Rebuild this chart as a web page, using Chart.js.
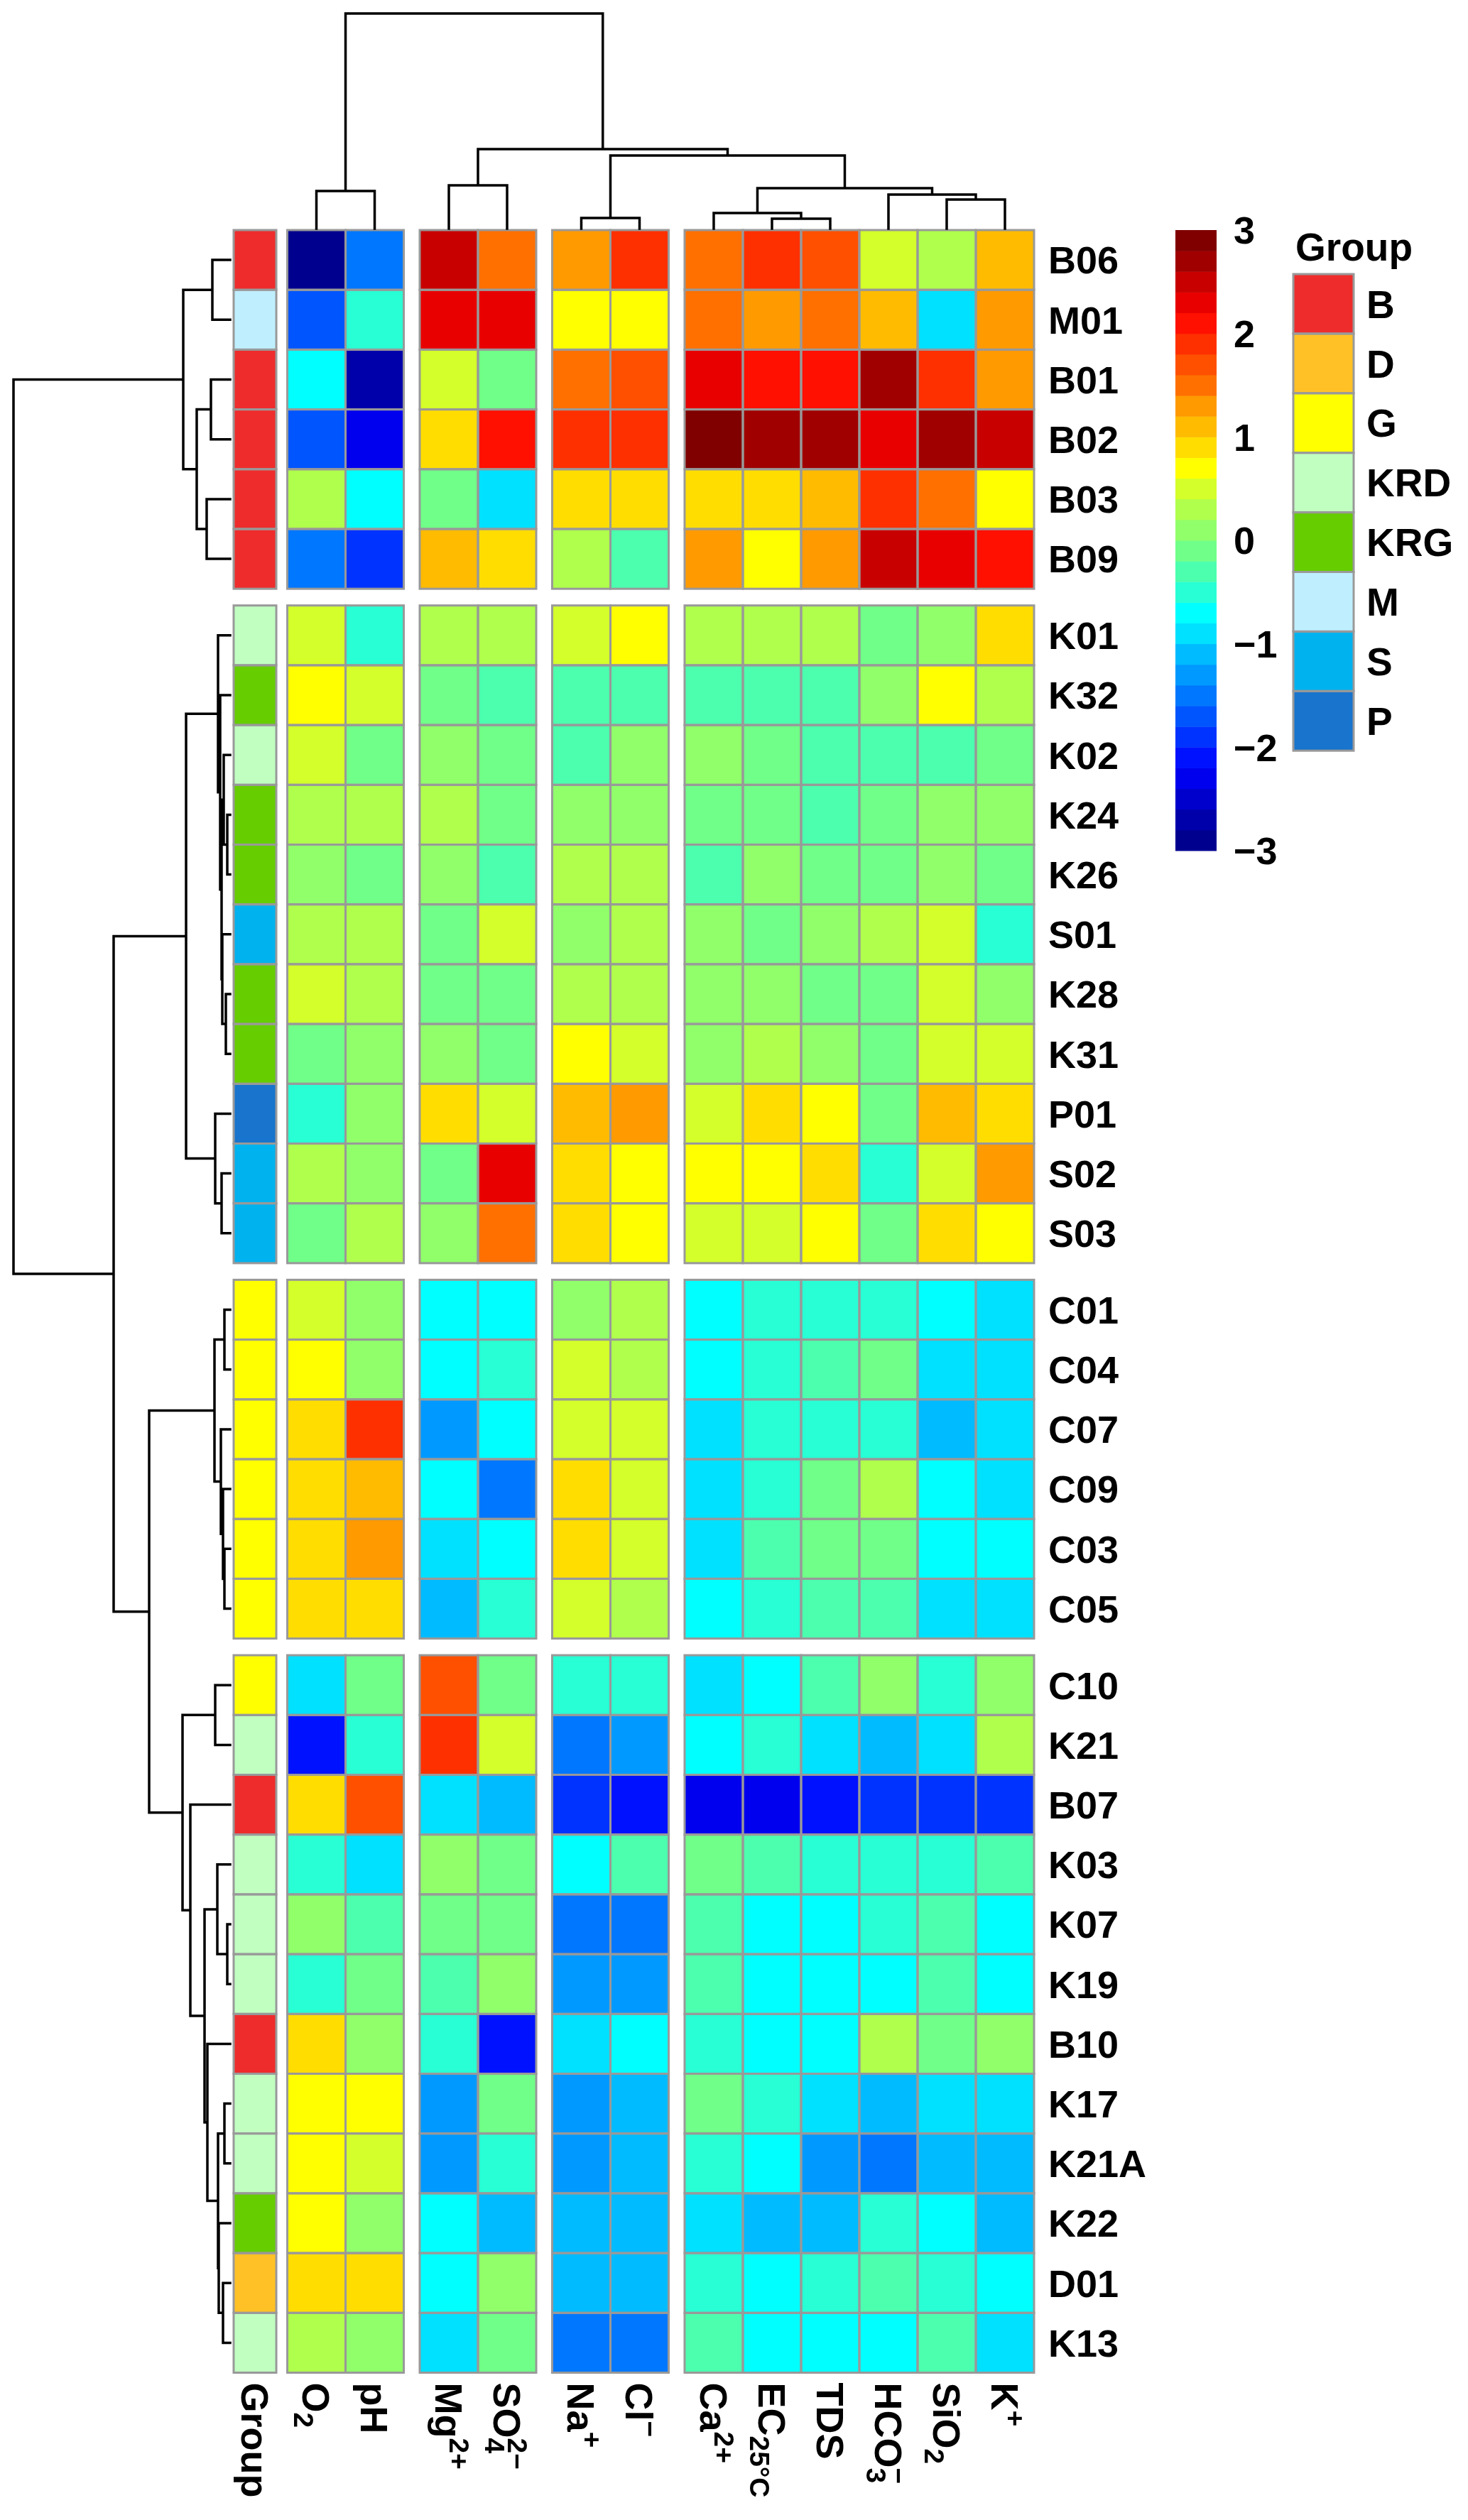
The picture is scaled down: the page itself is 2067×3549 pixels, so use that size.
<!DOCTYPE html>
<html>
<head>
<meta charset="utf-8">
<script src="https://cdn.jsdelivr.net/npm/chart.js@4.4.1/dist/chart.umd.min.js"></script>
<style>
html,body{margin:0;padding:0;background:#ffffff;}
#wrap{position:relative;width:2067px;height:3549px;overflow:hidden;}
#wrap canvas{position:absolute;left:0;top:0;width:2067px;height:3549px;}
</style>
</head>
<body>
<div id="wrap">
<canvas id="heat" width="2067" height="3549"></canvas>
<canvas id="dendTop" width="2067" height="3549"></canvas>
<canvas id="dendLeft" width="2067" height="3549"></canvas>
<canvas id="legend" width="2067" height="3549"></canvas>
</div>
<script>
// ---------------- DATA ----------------
const rowLabels = ['B06','M01','B01','B02','B03','B09','K01','K32','K02','K24','K26','S01','K28','K31','P01','S02','S03',
  'C01','C04','C07','C09','C03','C05','C10','K21','B07','K03','K07','K19','B10','K17','K21A','K22','D01','K13'];
const rowGroups = ['B','M','B','B','B','B','KRD','KRG','KRD','KRG','KRG','S','KRG','KRG','P','S','S',
  'G','G','G','G','G','G','G','KRD','B','KRD','KRD','KRD','B','KRD','KRD','KRG','D','KRD'];
const colKeys = ['O2','pH','Mg','SO4','Na','Cl','Ca','EC','TDS','HCO3','SiO2','K'];
const colLabels = ['O_{2}','pH','Mg^{2+}','SO_{4}^{2\u2212}','Na^{+}','Cl^{\u2212}','Ca^{2+}','EC_{25\u00B0C}','TDS','HCO_{3}^{\u2212}','SiO_{2}','K^{+}'];

const O2   = [-2.9,-1.7,-0.7,-1.7,0.3,-1.5, 0.5,0.7,0.5,0.3,0.1,0.3,0.5,-0.1,-0.5,0.3,-0.1, 0.5,0.7,0.9,0.9,0.9,0.9, -0.9,-2.1,0.9,-0.5,0.1,-0.5,0.9,0.7,0.7,0.7,0.9,0.3];
const pH   = [-1.5,-0.5,-2.7,-2.3,-0.7,-1.9, -0.5,0.5,-0.1,0.3,-0.1,0.3,0.3,0.1,0.1,0.1,0.3, 0.1,0.1,1.9,1.1,1.3,0.9, -0.1,-0.5,1.7,-0.9,-0.3,-0.1,0.1,0.7,0.5,0.1,0.9,0.1];
const Mg   = [2.5,2.3,0.5,0.9,-0.1,1.1, 0.3,-0.1,0.1,0.3,0.1,-0.1,-0.1,0.1,0.9,-0.1,0.1, -0.7,-0.7,-1.3,-0.7,-0.9,-1.1, 1.7,1.9,-0.9,0.1,-0.1,-0.3,-0.5,-1.3,-1.3,-0.7,-0.7,-0.9];
const SO4  = [1.5,2.3,-0.1,2.1,-0.9,0.9, 0.3,-0.3,-0.1,-0.1,-0.3,0.5,-0.1,-0.1,0.5,2.3,1.5, -0.7,-0.5,-0.7,-1.5,-0.7,-0.5, -0.1,0.5,-1.1,-0.1,-0.1,0.1,-2.1,-0.1,-0.5,-1.1,0.1,-0.1];
const Na   = [1.3,0.7,1.5,1.9,0.9,0.3, 0.5,-0.3,-0.3,0.1,0.3,0.1,0.3,0.7,1.1,0.9,0.9, 0.1,0.5,0.5,0.9,0.9,0.5, -0.5,-1.5,-1.9,-0.7,-1.5,-1.3,-0.9,-1.3,-1.3,-1.1,-1.1,-1.5];
const Cl   = [1.9,0.7,1.7,1.9,0.9,-0.3, 0.7,-0.3,0.1,0.1,0.3,0.3,0.3,0.5,1.3,0.7,0.7, 0.3,0.3,0.5,0.5,0.5,0.3, -0.5,-1.3,-2.1,-0.3,-1.5,-1.3,-0.7,-1.1,-1.1,-1.1,-1.1,-1.5];
const Ca   = [1.5,1.5,2.3,2.9,0.9,1.3, 0.3,-0.3,0.1,-0.1,-0.3,0.1,0.1,0.1,0.5,0.7,0.5, -0.7,-0.7,-0.9,-0.9,-0.9,-0.7, -0.9,-0.7,-2.3,-0.1,-0.3,-0.3,-0.5,-0.1,-0.5,-0.9,-0.5,-0.3];
const EC   = [1.9,1.3,2.1,2.7,0.9,0.7, 0.3,-0.3,-0.1,-0.1,0.1,-0.1,0.1,0.3,0.9,0.7,0.5, -0.5,-0.5,-0.5,-0.5,-0.3,-0.5, -0.7,-0.5,-2.3,-0.3,-0.7,-0.7,-0.7,-0.5,-0.7,-1.1,-0.7,-0.7];
const TDS  = [1.7,1.5,2.1,2.7,1.1,1.3, 0.3,-0.3,-0.3,-0.3,-0.1,0.1,-0.1,0.1,0.7,0.9,0.7, -0.5,-0.3,-0.5,-0.1,-0.1,-0.3, -0.3,-0.9,-2.1,-0.5,-0.7,-0.7,-0.7,-0.9,-1.3,-1.1,-0.5,-0.7];
const HCO3 = [0.5,1.1,2.7,2.3,1.9,2.5, -0.1,0.1,-0.3,-0.1,-0.1,0.3,-0.1,-0.1,-0.1,-0.5,-0.1, -0.5,-0.1,-0.5,0.3,-0.1,-0.3, 0.1,-1.1,-1.9,-0.5,-0.5,-0.7,0.3,-1.1,-1.5,-0.5,-0.3,-0.7];
const SiO2 = [0.3,-0.9,1.9,2.7,1.5,2.3, 0.1,0.7,-0.3,0.1,0.1,0.5,0.5,0.5,1.1,0.5,0.9, -0.7,-0.9,-1.1,-0.7,-0.7,-0.9, -0.5,-0.9,-1.9,-0.5,-0.3,-0.3,-0.1,-0.9,-1.1,-0.7,-0.5,-0.3];
const K    = [1.1,1.3,1.3,2.5,0.7,2.1, 0.9,0.3,-0.1,0.1,-0.1,-0.5,0.1,0.5,0.9,1.3,0.7, -0.9,-0.9,-0.9,-0.9,-0.7,-0.9, 0.1,0.3,-1.9,-0.3,-0.7,-0.7,0.1,-0.9,-1.1,-1.1,-0.7,-0.9];

const rowGapsAfter = [6, 17, 23];
const colGapsAfter = [2, 4, 6];

// dendrograms: [mergeHeight, left, right]
const colTree = [303, [53,'O2','pH'], [112, [61,'Mg','SO4'], [103, [15,'Na','Cl'], [57, [22,'Ca',[14,'EC','TDS']], [48,'HCO3',[41,'SiO2','K']]]]]];
const rowTree = [305,
  [66, [25,'B06','M01'], [47, [27,'B01','B02'], [33,'B03','B09']]],
  [164,
    [62,
      [17,'K01',[14,'K32',[12,[9,'K02',[4,'K24','K26']],[11,'S01',[6,'K28','K31']]]]],
      [21,'P01',[12,'S02','S03']]],
    [114,
      [22,[8,'C01','C04'],[13,'C07',[10,'C09',[8,'C03','C05']]]],
      [67,[21,'C10','K21'],[56,'B07',[36,[18,'K03',[4,'K07','K19']],[32,'B10',[17,[8,'K17','K21A'],[16,'K22',[10,'D01','K13']]]]]]]]]];

const scaleTicks = [3, 2, 1, 0, -1, -2, -3];
const scaleMin = -3, scaleMax = 3, scaleStep = 0.2;
const groupNames = ['B','D','G','KRD','KRG','M','S','P'];

// ---------------- STYLE ----------------
const palette = ['#00008F','#0000AA','#0000CC','#0000EE','#0011FF','#0033FF','#0055FF','#0077FF','#0099FF','#00BBFF',
  '#00E0FF','#00FFFF','#28FFD4','#4CFFAE','#70FF88','#90FF6A','#B0FF4C','#D4FF2A','#FFFF00','#FFDD00',
  '#FFBB00','#FF9A00','#FF7000','#FF5000','#FF3000','#FF1000','#E80000','#C80000','#A00000','#800000'];
const groupColors = {B:'#EE2C2C', D:'#FFC125', G:'#FFFF00', KRD:'#C1FFC1', KRG:'#66CD00', M:'#BFEFFF', S:'#00B2EE', P:'#1874CD'};
const FONT = '"Liberation Sans", Arial, Helvetica, sans-serif';
const FS = 54;
const BORDER = '#999999';

// ---------------- LAYOUT (in cell units) ----------------
const GW = 0.732, GG = 0.189, CG = 0.274, RG = 0.279;
const matrix = [O2,pH,Mg,SO4,Na,Cl,Ca,EC,TDS,HCO3,SiO2,K];
const nRows = rowLabels.length, nCols = colKeys.length;
function colStart(j){ let g = colGapsAfter.filter(a => j >= a).length; return GW + GG + j + g*CG; }
function rowStart(i){ let g = rowGapsAfter.filter(a => i >= a).length; return i + g*RG; }
const XMAX = colStart(nCols-1) + 1;
const YMAX = rowStart(nRows-1) + 1;
function colorFor(v){ let k = Math.floor((v - scaleMin)/scaleStep + 1e-9); k = Math.max(0, Math.min(palette.length-1, k)); return palette[k]; }

function drawRich(ctx, markup, x, y, size){
  const re = /_\{([^}]*)\}|\^\{([^}]*)\}|([^_^]+)/g;
  let m, cx = x, lastSub = null;
  while ((m = re.exec(markup))){
    if (m[3] !== undefined){
      ctx.font = 'bold ' + size + 'px ' + FONT;
      ctx.fillText(m[3], cx, y); cx += ctx.measureText(m[3]).width; lastSub = null;
    } else if (m[1] !== undefined){
      const s = size*0.72; ctx.font = 'bold ' + s + 'px ' + FONT;
      ctx.fillText(m[1], cx, y + size*0.22);
      const w = ctx.measureText(m[1]).width; lastSub = {x:cx, w:w}; cx += w;
    } else {
      const s = size*0.72; ctx.font = 'bold ' + s + 'px ' + FONT;
      const w = ctx.measureText(m[2]).width;
      if (lastSub){ ctx.fillText(m[2], lastSub.x, y - size*0.38); cx = lastSub.x + Math.max(w, lastSub.w); }
      else { ctx.fillText(m[2], cx, y - size*0.38); cx += w; }
      lastSub = null;
    }
  }
}

const base = {responsive:false, animation:false, devicePixelRatio:1, events:[],
  plugins:{legend:{display:false}, tooltip:{enabled:false}}};

// ---------------- HEATMAP ----------------
const heatPlugin = {
  id:'heatCells',
  afterDraw(chart){
    const {ctx, chartArea} = chart; const x = chart.scales.x, y = chart.scales.y;
    ctx.save();
    const rects = [];
    for (let i = 0; i < nRows; i++){
      const y0 = y.getPixelForValue(rowStart(i)), y1 = y.getPixelForValue(rowStart(i)+1);
      const gx0 = x.getPixelForValue(0), gx1 = x.getPixelForValue(GW);
      ctx.fillStyle = groupColors[rowGroups[i]]; ctx.fillRect(gx0, y0, gx1-gx0, y1-y0);
      rects.push([gx0, y0, gx1-gx0, y1-y0]);
      for (let j = 0; j < nCols; j++){
        const x0 = x.getPixelForValue(colStart(j)), x1 = x.getPixelForValue(colStart(j)+1);
        ctx.fillStyle = colorFor(matrix[j][i]); ctx.fillRect(x0, y0, x1-x0, y1-y0);
        rects.push([x0, y0, x1-x0, y1-y0]);
      }
    }
    ctx.strokeStyle = BORDER; ctx.lineWidth = 3;
    rects.forEach(r => ctx.strokeRect(r[0], r[1], r[2], r[3]));
    // row labels
    ctx.fillStyle = '#000'; ctx.textAlign = 'left'; ctx.textBaseline = 'alphabetic';
    ctx.font = 'bold ' + FS + 'px ' + FONT;
    for (let i = 0; i < nRows; i++){
      const yc = y.getPixelForValue(rowStart(i)+0.5);
      ctx.fillText(rowLabels[i], chartArea.right + 20, yc + FS*0.358);
    }
    // column labels (rotated 270)
    const top = chartArea.bottom + 14;
    const labs = [{c:GW/2, t:'Group'}].concat(colLabels.map((t,j)=>({c:colStart(j)+0.5, t:t})));
    labs.forEach(l => {
      const xc = x.getPixelForValue(l.c);
      ctx.save(); ctx.translate(xc, top); ctx.rotate(Math.PI/2);
      drawRich(ctx, l.t, 0, FS*0.358, FS);
      ctx.restore();
    });
    ctx.restore();
  }
};
new Chart(document.getElementById('heat'), {
  type:'scatter', data:{datasets:[]},
  options:Object.assign({}, base, {
    layout:{padding:{left:329, right:2067-1456, top:324, bottom:3549-3341.5}},
    scales:{x:{type:'linear', display:false, min:0, max:XMAX}, y:{type:'linear', display:false, min:0, max:YMAX, reverse:true}}
  }),
  plugins:[heatPlugin]
});

// ---------------- DENDROGRAMS ----------------
function dendroPoints(tree, leafPos){
  const pts = [];
  (function walk(node){
    if (typeof node === 'string') return {p:leafPos(node), h:0};
    const A = walk(node[1]), B = walk(node[2]), h = node[0];
    pts.push({p:A.p,h:A.h},{p:A.p,h:h},{p:B.p,h:h},{p:B.p,h:B.h},null);
    return {p:(A.p+B.p)/2, h:h};
  })(tree);
  return pts;
}
const lineDs = d => ({data:d, showLine:true, pointRadius:0, borderColor:'#000', borderWidth:3.5,
  borderJoinStyle:'miter', borderCapStyle:'square', spanGaps:false, clip:false, tension:0});

const topPts = dendroPoints(colTree, k => colStart(colKeys.indexOf(k)) + 0.5)
  .map(q => q ? {x:q.p, y:q.h} : {x:null, y:null});
new Chart(document.getElementById('dendTop'), {
  type:'scatter', data:{datasets:[lineDs(topPts)]},
  options:Object.assign({}, base, {
    layout:{padding:{left:329, right:2067-1456, top:19, bottom:3549-322}},
    scales:{x:{type:'linear', display:false, min:0, max:XMAX}, y:{type:'linear', display:false, min:0, max:colTree[0]}}
  })
});

const leftPts = dendroPoints(rowTree, k => rowStart(rowLabels.indexOf(k)) + 0.5)
  .map(q => q ? {x:q.h, y:q.p} : {x:null, y:null});
new Chart(document.getElementById('dendLeft'), {
  type:'scatter', data:{datasets:[lineDs(leftPts)]},
  options:Object.assign({}, base, {
    layout:{padding:{left:19, right:2067-324, top:324, bottom:3549-3341.5}},
    scales:{x:{type:'linear', display:false, min:0, max:rowTree[0], reverse:true}, y:{type:'linear', display:false, min:0, max:YMAX, reverse:true}}
  })
});

// ---------------- LEGENDS ----------------
const legendPlugin = {
  id:'legendDraw',
  afterDraw(chart){
    const {ctx, chartArea} = chart; const x = chart.scales.x, y = chart.scales.y;
    ctx.save();
    const x0 = x.getPixelForValue(0), x1 = x.getPixelForValue(1);
    for (let k = 0; k < palette.length; k++){
      const lo = scaleMin + k*scaleStep, hi = lo + scaleStep;
      const ya = y.getPixelForValue(hi), yb = y.getPixelForValue(lo);
      ctx.fillStyle = palette[k]; ctx.fillRect(x0, ya, x1-x0, yb-ya + 0.5);
    }
    ctx.fillStyle = '#000'; ctx.textAlign = 'left'; ctx.textBaseline = 'alphabetic';
    ctx.font = 'bold ' + FS + 'px ' + FONT;
    scaleTicks.forEach(v => {
      const t = v < 0 ? '\u2212' + Math.abs(v) : String(v);
      ctx.fillText(t, chartArea.right + 24, y.getPixelForValue(v) + FS*0.358);
    });
    // group legend
    const gx = 1821, gw = 85, gTop = 386, gh = 83.9;
    ctx.font = 'bold 55px ' + FONT;
    ctx.fillText('Group', 1824, 347 + 55*0.358);
    groupNames.forEach((g, i) => {
      ctx.fillStyle = groupColors[g]; ctx.fillRect(gx, gTop + i*gh, gw, gh);
    });
    ctx.strokeStyle = BORDER; ctx.lineWidth = 3;
    groupNames.forEach((g, i) => ctx.strokeRect(gx, gTop + i*gh, gw, gh));
    ctx.fillStyle = '#000';
    groupNames.forEach((g, i) => ctx.fillText(g, gx + gw + 18, gTop + (i+0.5)*gh + 55*0.358));
    ctx.restore();
  }
};
new Chart(document.getElementById('legend'), {
  type:'scatter', data:{datasets:[]},
  options:Object.assign({}, base, {
    layout:{padding:{left:1655, right:2067-1713, top:324, bottom:3549-1198}},
    scales:{x:{type:'linear', display:false, min:0, max:1}, y:{type:'linear', display:false, min:scaleMin, max:scaleMax}}
  }),
  plugins:[legendPlugin]
});
</script>
</body>
</html>
